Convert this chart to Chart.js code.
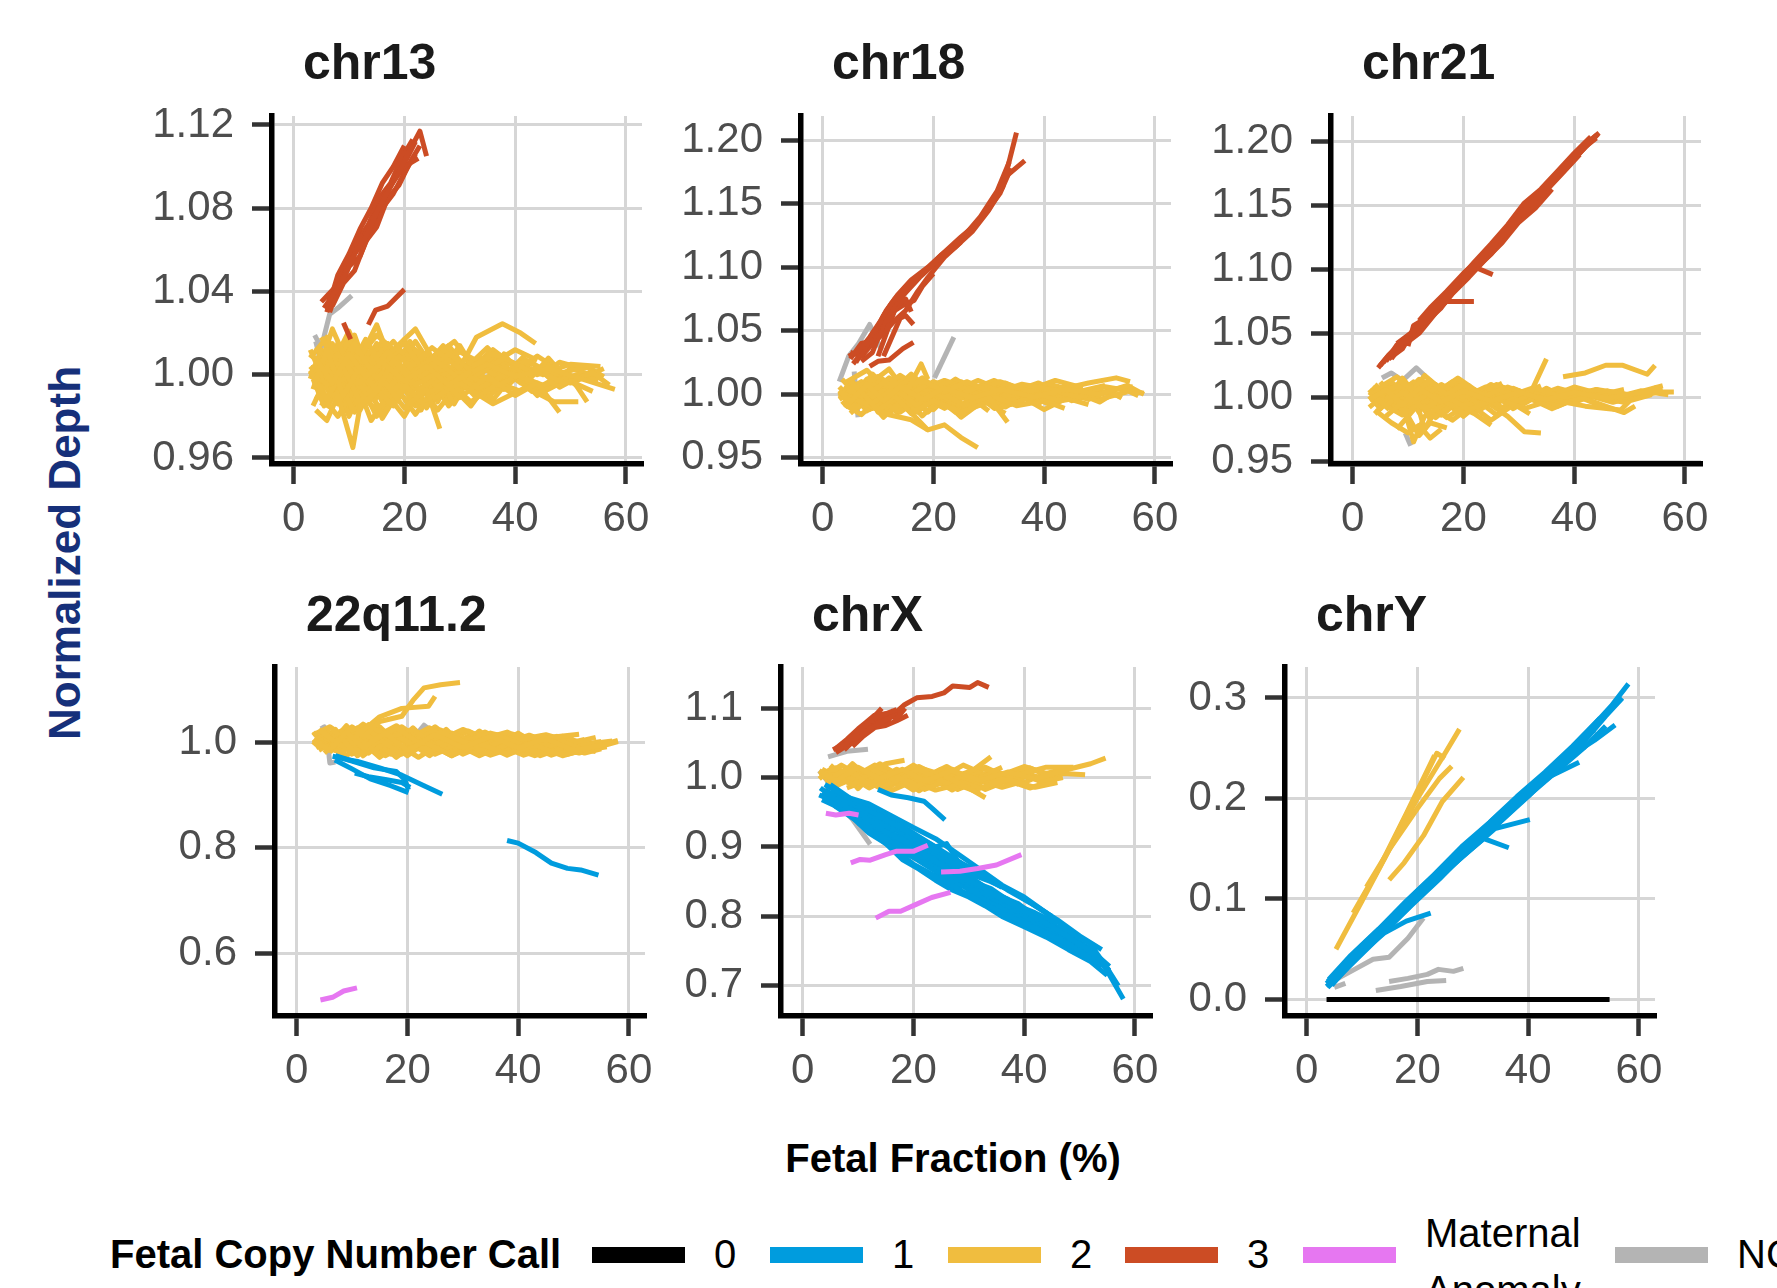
<!DOCTYPE html>
<html>
<head>
<meta charset="utf-8">
<script src="https://cdn.jsdelivr.net/npm/chart.js@4.4.1/dist/chart.umd.min.js"></script>
<style>
  body { margin: 0; width: 1777px; height: 1288px; overflow: hidden; background: #fff;
         font-family: "Liberation Sans", Arial, sans-serif; position: relative; }
  canvas { position: absolute; }
  .txt { position: absolute; white-space: nowrap; line-height: 1; }
  .title { font-weight: bold; font-size: 50px; color: #1a1a1a; }
  .key { position: absolute; width: 93px; height: 16px; }
  .lab { font-size: 40px; color: #000; }
</style>
</head>
<body>
<script>
'use strict';

// ---------- values ----------
const xTicks = [0, 20, 40, 60];
const chr13Ticks = [0.96, 1.00, 1.04, 1.08, 1.12];
const chr18Ticks = [0.95, 1.00, 1.05, 1.10, 1.15, 1.20];
const chr21Ticks = [0.95, 1.00, 1.05, 1.10, 1.15, 1.20];
const q22Ticks = [0.6, 0.8, 1.0];
const chrXTicks = [0.7, 0.8, 0.9, 1.0, 1.1];
const chrYTicks = [0.0, 0.1, 0.2, 0.3];
const calls = ['0', '1', '2', '3', 'Maternal\nAnomaly', 'NC'];

// each line is one sample: [fetal fraction %, normalized depth]
const chr13CN2 = [
  [[4,1.008],[7,0.996],[10,1.010],[13,0.999],[16,1.006],[20,0.997],[24,1.004],[28,0.995],[32,1.002]],
  [[3.5,0.993],[6,1.012],[9,0.990],[12,1.004],[15,0.992],[18,1.007],[22,0.995],[26,1.001]],
  [[5,1.018],[8,1.004],[11,1.015],[14,1.002],[17,1.011],[21,1.000],[25,1.008],[30,0.998],[35,1.005],[40,0.999],[46,1.003],[52,0.998],[58,0.993]],
  [[4,0.983],[6,0.978],[8,0.990],[10.7,0.965],[12,0.985],[15,0.992]],
  [[3,1.002],[6,0.988],[9,1.003],[12,0.987],[16,0.998],[20,0.984],[24,0.993],[26.4,0.974]],
  [[5,1.006],[7,1.022],[9,1.010],[12,1.008],[15,1.024],[17,1.010],[20,1.015],[23,1.004]],
  [[4,0.997],[8,1.010],[12,0.996],[16,1.012],[20,1.001],[25,1.013],[30,1.003],[33,1.018],[37.7,1.0245],[41,1.020],[43.7,1.015]],
  [[6,0.992],[10,1.000],[14,0.989],[18,1.001],[22,0.990],[26,1.000],[30,0.989],[35,0.999],[40,0.990],[44,0.996],[48,0.982]],
  [[3,1.010],[7,1.000],[11,1.013],[15,0.998],[19,1.009],[23,0.999],[28,1.010],[33,1.000],[38,1.008],[44,1.000],[50,1.005],[55.4,1.004]],
  [[5,0.985],[8,0.998],[11,0.982],[14,0.995],[18,0.985],[21,0.997],[25,0.988],[30,0.996],[36,0.986],[42,0.994],[47,0.987],[51.4,0.987]],
  [[4,1.001],[7,1.014],[10,1.002],[13,1.017],[16,1.004],[19,1.012],[22,0.998]],
  [[6,1.003],[9,0.991],[13,1.006],[17,0.993],[21,1.005],[26,0.994],[31,1.004],[37,0.995],[43,1.003],[49,0.996],[54,1.001],[57,0.995]],
  [[3,0.998],[5,1.012],[8,0.999],[11,1.007],[14,0.994],[18,1.003],[23,0.991],[28,1.002],[33,0.993],[39,1.001],[45,0.995],[50,0.999],[53,0.987]],
  [[4,1.013],[7,1.002],[10,1.017],[14,1.005],[18,1.016],[22,1.003],[27,1.012],[31,1.002],[36,1.010],[41,1.002]],
  [[5,0.990],[8,0.980],[11,0.993],[15,0.983],[19,0.995],[24,0.985],[29,0.996]],
  [[4,1.000],[8,1.006],[12,0.994],[16,1.008],[20,0.996],[24,1.009],[28,0.999],[32,1.006],[37,0.999],[42,1.007],[47,1.000],[53,1.004],[56,0.999]],
  [[7,1.005],[10,1.021],[12,1.009],[15,1.019],[18,1.012],[22,1.022],[25,1.008],[29,1.016],[32,1.006]],
  [[3,1.004],[6,0.995],[9,1.009],[13,0.997],[17,1.002],[22,0.989],[27,0.999],[32,0.987],[37,0.996],[41,0.992]],
  [[5,1.011],[9,0.997],[13,1.008],[17,0.990],[21,1.002],[25,0.992],[29,1.005],[34,0.996],[39,1.006],[45,1.000],[48,1.006],[52,1.003]],
  [[4,0.988],[7,1.000],[10,0.986],[13,0.999],[16,0.979],[19,0.992],[22,0.981],[26,0.996]],
  [[6,1.016],[9,1.005],[12,1.013],[16,0.999],[20,1.010],[25,1.001],[30,1.011],[35,1.004],[40,1.012],[44,1.007]],
  [[3.5,1.005],[6.5,0.991],[10,1.004],[14,0.988],[18,1.000],[23,0.986],[28,0.997],[34,0.991],[40,0.999],[46,0.993],[51,1.000],[55,0.997]],
  [[4.5,1.003],[7.5,0.989],[10.5,1.006],[13.5,0.991],[16.5,1.009],[19.5,0.993],[23,1.007],[27,0.992],[31,1.008],[35,0.994],[39,1.006]],
  [[5.5,0.996],[8.5,1.011],[11.5,0.993],[14.5,1.010],[17.5,0.990],[21,1.008],[25,0.989],[29,1.005],[33,0.991],[38,1.003],[43,0.992],[47,0.998]],
  [[3,1.000],[5,1.010],[8,0.986],[11,1.000],[14,1.012],[17,0.995],[20,1.011],[24,0.996],[28,1.012],[32,0.997],[36,1.009]],
  [[6,1.009],[9,0.994],[12,1.012],[15,0.989],[18,1.006],[21,0.991],[24,1.006],[27,0.990],[30,1.007],[34,0.994],[38,1.010],[42,0.996],[46,1.008],[50,0.996],[54,1.002]],
  [[4,1.005],[6,0.986],[9,1.002],[12,0.983],[15,0.998],[18,0.988],[21,1.001],[24,0.984],[27,0.997]],
  [[7,0.999],[10,1.009],[13,0.997],[16,1.014],[19,0.998],[22,1.012],[26,0.999],[30,1.014],[33,1.001],[36,1.012],[40,1.004]],
  [[5,1.001],[8,1.015],[11,0.998],[14,1.008],[17,0.986],[20,1.000],[23,0.983],[26,0.999],[29,0.986],[32,1.000],[36,0.988],[40,1.001],[44,0.990],[48,1.001],[52,0.993]],
  [[3.5,0.985],[6,0.999],[9,0.983],[12,0.996],[15,0.980],[18,0.994],[21,0.986]],
  [[8,1.000],[11,0.988],[14,1.002],[18,0.991],[22,1.006],[26,0.993],[30,1.001],[35,0.989],[40,1.002],[45,0.991],[50,1.003],[55,0.999]],
  [[4,1.012],[7,1.008],[10,0.995],[13,1.010],[16,1.000],[20,1.017],[23,1.002],[27,1.014],[31,0.999]],
  [[3,1.012],[5,1.000],[7,1.015],[9,0.998],[11,1.011],[13,0.993],[15,1.003],[17,0.989],[19,1.004],[21,0.988],[23,1.002],[26,0.987],[29,1.000],[33,0.989],[37,1.001]],
  [[4,0.994],[6,1.006],[8,0.992],[10,1.008],[12,0.990],[14,1.005],[16,0.993],[18,1.010],[20,0.994],[22,1.008],[25,0.996],[28,1.009],[32,0.995],[36,1.006],[41,0.996],[46,1.005],[51,0.997],[56,1.003]],
  [[5,1.000],[7,0.990],[9,1.012],[11,0.991],[13,1.013],[15,0.996],[17,1.015],[19,0.995],[21,1.013],[24,0.993],[27,1.009],[30,0.992],[34,1.008],[38,0.993],[43,1.006],[48,0.994],[53,1.001]],
  [[6,0.984],[8,0.994],[10,0.980],[12,0.992],[14,0.978],[17,0.990],[20,0.980],[23,0.994],[26,0.983],[29,0.993],[32,0.985],[35,0.996]],
  [[3,1.008],[6,1.018],[8,1.006],[11,1.019],[13,1.004],[16,1.016],[19,1.006],[22,1.016],[25,1.004],[28,1.014],[31,1.003],[35,1.013],[39,1.002],[42,1.010]],
  [[4.5,0.992],[7,1.004],[10,0.989],[13,1.003],[16,0.987],[19,1.002],[22,0.987],[25,1.001],[28,0.988],[31,0.999],[35,0.992],[39,1.000],[44,0.993],[49,0.998],[54,0.992]],
  [[6,1.002],[9,1.014],[12,1.000],[15,1.015],[18,1.002],[21,1.016],[24,1.000],[27,1.012],[31,0.998],[35,1.010],[39,0.999],[44,1.009],[48,1.002]],
  [[3.5,0.998],[5.5,0.985],[8,0.996],[10,0.984],[13,0.994],[16,0.982],[19,0.997],[22,0.985],[25,0.998],[28,0.985],[31,0.995]]
];
const chr13CN3 = [
  [[5.5,1.032],[7,1.038],[9,1.046],[11,1.058],[13,1.066],[15,1.078],[17,1.088],[19,1.097],[21,1.108],[22.8,1.117],[24,1.105]],
  [[6,1.036],[8,1.041],[10,1.054],[12,1.062],[14,1.074],[16,1.083],[18,1.093],[20,1.100],[22.5,1.104]],
  [[7,1.033],[9,1.044],[11,1.050],[13,1.064],[15,1.071],[17,1.085],[19,1.091],[21,1.102],[22.8,1.110]],
  [[8,1.040],[10,1.052],[12,1.057],[14,1.070],[16,1.080],[18,1.087],[20,1.097],[22,1.106]],
  [[6.5,1.030],[8.5,1.045],[10.5,1.055],[12.5,1.068],[14.5,1.076],[16.5,1.087],[18.5,1.095],[20.5,1.104],[22,1.112]],
  [[5,1.035],[7.5,1.042],[9.5,1.052],[11.5,1.064],[13.5,1.072],[15.5,1.085],[17.5,1.092],[19.5,1.104],[21.5,1.113]],
  [[6,1.030],[8,1.048],[10,1.058],[12,1.070],[14,1.080],[16,1.092],[18,1.100],[20,1.110]],
  [[9,1.025],[10.3,1.017]],
  [[13.5,1.024],[14.8,1.031],[17,1.033],[20,1.041]]
];
const chr13NC = [
  [[3.8,1.019],[5,1.013],[6.5,1.029],[8,1.032],[10.5,1.038]],
  [[4,1.016],[5,1.005],[6,0.996]]
];

const chr18CN2 = [
  [[3,1.003],[5,0.994],[8,1.008],[11,0.995],[14,1.006],[18,0.996],[22,1.005],[27,0.997],[32,1.004],[38,0.998],[44,1.004],[50,1.000],[55,1.007],[58,1.000]],
  [[4,0.990],[7,1.002],[10,0.987],[13,0.999],[16,0.985],[20,0.995],[25,0.986],[30,0.994]],
  [[5,1.010],[8,0.998],[12,1.013],[15,1.001],[17.8,1.024],[19,1.012]],
  [[4,1.000],[8,0.992],[12,0.984],[16,0.980],[19,0.972],[22,0.976],[25,0.966],[28,0.958]],
  [[6,1.005],[10,1.014],[14,1.004],[18,1.011],[22,1.002],[26,1.010],[31,1.001],[36,1.008],[42,1.003],[48,1.009],[53,1.013],[55.5,1.010]],
  [[3,0.996],[6,1.006],[9,0.993],[13,1.005],[17,0.991],[21,1.003],[26,0.990],[30,0.998],[33.4,0.978]],
  [[5,0.985],[8,0.997],[11,0.982],[14,0.994],[17,0.981],[19,0.972]],
  [[4,1.007],[7,0.997],[11,1.009],[15,0.998],[19,1.008],[24,0.999],[29,1.007],[34,0.999],[40,1.005],[46,0.998],[52,1.002],[54,0.997]],
  [[7,0.993],[11,1.003],[15,0.990],[20,1.002],[25,0.991],[30,1.000],[35,0.991],[40,0.995],[43.7,0.989]],
  [[3.5,1.012],[6,1.000],[9,1.016],[12,1.003],[16,1.012],[20,0.999],[24,1.008],[28,1.000]],
  [[5,0.999],[9,1.009],[13,0.995],[18,1.006],[23,0.994],[28,1.004],[34,0.996],[39,1.006],[45,1.001],[51,1.006],[55,1.003],[58,1.001]],
  [[4,0.992],[7,0.984],[10,0.996],[14,0.986],[18,0.998],[22,0.989],[26,1.000],[31,0.993],[37,1.001],[43,0.995],[47,0.998]],
  [[6,1.008],[10,0.996],[14,1.010],[18,0.997],[22,1.009],[27,1.001],[32,1.010],[37,1.003],[42,1.011],[47,1.005]],
  [[3,1.000],[6,0.990],[9,1.003],[12,0.992],[16,1.004],[21,0.993],[26,1.003],[31,0.995],[36,1.002]],
  [[8,1.005],[12,0.997],[16,1.007],[21,0.995],[26,1.006],[31,0.996],[36,1.004],[41,0.996],[46,1.001],[50,0.994],[53,1.002]],
  [[5,1.004],[9,0.989],[13,1.001],[17,0.986],[21,0.999],[25,0.982],[29,0.995],[33,0.985]],
  [[4,1.009],[8,1.019],[11,1.006],[14,1.015],[18,1.004],[22,1.011],[26,1.005]],
  [[3.5,1.004],[6.5,0.993],[9.5,1.006],[12.5,0.991],[15.5,1.007],[19,0.992],[23,1.006],[27,0.993],[31,1.005],[35,0.993],[40,1.004],[45,0.995],[50,1.003],[54,0.998]],
  [[5,0.995],[8,1.007],[11,0.990],[14,1.009],[17,0.992],[21,1.008],[25,0.991],[29,1.007],[33,0.995],[37,1.006],[41,0.997]],
  [[4,1.002],[7,1.010],[10,0.996],[13,1.011],[16,0.994],[19,1.006],[23,0.990],[27,1.003],[31,0.989],[35,1.001],[39,0.993],[43,1.002],[48,0.996],[52,1.004],[56,1.006]],
  [[6,0.988],[9,0.999],[12,0.985],[15,0.997],[18,0.983],[21,0.996],[24,0.986],[27,0.997],[30,0.987]],
  [[3,1.006],[5,0.997],[8,1.012],[11,1.000],[14,1.013],[17,1.002],[20,1.010],[24,1.003],[28,1.011],[32,1.004]],
  [[7,1.000],[10,0.990],[13,1.003],[16,0.989],[20,1.000],[24,0.988],[28,0.999],[32,0.989],[36,0.998],[40,0.988],[44,0.997],[48,0.992]],
  [[4.5,0.998],[8,1.004],[12,0.994],[16,1.006],[20,0.996],[24,1.004],[28,0.994],[33,1.006],[38,0.996],[44,1.007],[49,0.999],[54,1.005],[57,0.999]],
  [[9,1.010],[12,1.020],[14,1.008],[16,1.016],[19,1.004]],
  [[3,0.999],[5,1.008],[7,0.994],[9,1.010],[11,0.993],[13,1.008],[15,0.991],[18,1.007],[21,0.992],[24,1.006],[27,0.991],[30,1.005],[34,0.992],[38,1.004],[42,0.994],[46,1.003]],
  [[4,1.004],[6,0.988],[8,1.002],[10,0.986],[12,1.000],[14,0.988],[17,1.003],[20,0.988],[23,1.001],[26,0.989],[29,1.002],[33,0.990],[37,1.000],[41,0.992],[45,1.001],[50,0.996],[55,1.002]],
  [[5,1.012],[7,1.002],[9,1.013],[11,1.003],[13,1.014],[15,1.004],[18,1.013],[21,1.003],[24,1.012],[27,1.004],[31,1.011],[35,1.003],[39,1.009],[43,1.001]],
  [[6,0.997],[8,0.987],[10,1.000],[12,0.988],[14,1.002],[17,0.989],[20,1.004],[23,0.993],[26,1.005],[30,0.994],[34,1.005],[38,0.995],[43,1.004],[48,0.997],[52,1.003]],
  [[3.5,0.992],[6,1.002],[8.5,0.988],[11,1.001],[13.5,0.985],[16,0.997],[19,0.986],[22,0.998],[25,0.988],[28,0.999]],
  [[7,1.008],[9,0.998],[12,1.010],[15,0.999],[18,1.011],[21,1.000],[25,1.010],[29,1.000],[33,1.009],[37,1.001],[41,1.008],[46,1.002],[51,1.007]]
];
const chr18CN3 = [
  [[4.7,1.030],[6.5,1.034],[8.5,1.045],[10.5,1.058],[12.5,1.072],[15,1.083],[18,1.095],[21,1.106],[24,1.116],[27,1.128],[30,1.145],[32.5,1.163],[35,1.206]],
  [[5.5,1.024],[7.5,1.035],[9.5,1.050],[11.5,1.066],[13.5,1.078],[16,1.090],[19,1.100],[22,1.112],[25,1.124],[28,1.135],[31,1.155],[33.5,1.173],[36.5,1.184]],
  [[5,1.028],[7,1.040],[9,1.042],[11,1.062],[13,1.075],[15.5,1.087],[18.5,1.097],[21.5,1.110],[25,1.122],[28.5,1.140],[31.5,1.160],[33.7,1.183]],
  [[6,1.030],[8,1.038],[10,1.052],[12,1.064],[14,1.076],[17,1.092],[20,1.103],[23,1.114],[26,1.126],[29,1.140],[32,1.158],[34,1.178]],
  [[7,1.026],[9,1.033],[11,1.055],[13,1.070],[15,1.080],[17.5,1.092],[20.5,1.104]],
  [[5,1.033],[7,1.030],[9,1.040],[11,1.048],[13,1.058],[15,1.066],[17,1.080],[19,1.092],[22,1.108],[25,1.120]],
  [[6,1.025],[8,1.040],[10,1.045],[12,1.058],[13.5,1.070],[15,1.075],[16,1.065]],
  [[8.5,1.022],[10,1.026],[12,1.027],[14.5,1.036],[16.4,1.041]],
  [[11,1.030],[12.5,1.045],[14,1.060],[15,1.062],[16.4,1.055]],
  [[10,1.030],[11.5,1.048],[13,1.066],[14.5,1.070],[16.5,1.074],[18,1.085],[20,1.095]]
];
const chr18NC = [
  [[3,1.010],[4.7,1.030],[6.5,1.040],[8.5,1.055],[10.6,1.035]],
  [[20.2,1.013],[23.7,1.045]],
  [[5.7,1.018],[6.4,0.982]]
];

const chr21CN2 = [
  [[3,0.998],[6,1.006],[9,0.994],[12,1.007],[16,0.996],[20,1.005],[25,0.997],[30,1.004],[35,0.998],[40,1.004],[46,0.999],[52,1.004],[58,1.004]],
  [[4,0.990],[7,0.980],[10,0.972],[12,0.978],[14,0.968],[16,0.975]],
  [[5,1.008],[8,1.016],[11,1.004],[14,1.013],[17,1.002],[20,1.010],[24,1.001],[28,1.008],[32,1.002],[35,1.030]],
  [[38,1.016],[42,1.019],[45.7,1.025],[48.8,1.025],[53.2,1.018],[54.6,1.025]],
  [[3,1.004],[6,0.993],[9,1.004],[13,0.991],[17,1.001],[21,0.990],[26,0.999],[31,0.991],[36,0.998],[42,0.993],[48.4,0.990],[50,0.997]],
  [[6,0.985],[9,0.996],[11,0.965],[13,0.985],[16,0.993]],
  [[4,1.001],[8,1.009],[12,0.998],[16,1.010],[20,1.000],[24,1.008],[28,0.999],[33,1.007],[38,1.000],[44,1.006],[50,1.002],[56,1.009]],
  [[5,0.996],[9,0.986],[13,0.998],[17,0.984],[21,0.995],[25,0.982],[29,0.994]],
  [[3.5,1.002],[7,1.012],[10,1.000],[13,1.017],[16,1.006],[19,1.015],[23,1.003]],
  [[6,1.001],[10,0.991],[14,1.003],[18,0.993],[22,1.004],[27,0.992],[32,1.002],[37,0.994],[43,1.001],[49,0.996],[54,1.002]],
  [[4,0.995],[8,1.004],[12,0.990],[16,1.001],[20,0.987],[24,0.997],[28,0.985],[31,0.973],[34,0.972]],
  [[7,1.006],[11,0.995],[15,1.006],[19,0.994],[23,1.004],[28,0.996],[33,1.005],[39,0.998],[45,1.004],[51,0.999],[55,1.008]],
  [[5,1.003],[8,0.992],[11,1.008],[15,0.996],[19,1.009],[24,0.998],[29,1.007],[34,0.998],[40,1.008],[46,1.001]],
  [[3,0.992],[6,1.003],[9,0.988],[12,0.999],[15,0.984],[18,0.995],[22,0.987],[25,0.978]],
  [[8,1.002],[12,1.011],[16,0.999],[20,1.007],[25,0.995],[30,1.004],[35,0.994],[40,1.002],[45,0.994],[49,0.988],[51,0.993]],
  [[4,1.010],[7,0.999],[11,1.012],[15,1.001],[19,1.013],[23,1.002],[27,1.011]],
  [[3.5,0.997],[6.5,1.007],[9.5,0.992],[12.5,1.006],[15.5,0.993],[19,1.007],[23,0.994],[27,1.006],[31,0.995],[35,1.005],[40,0.996],[45,1.004],[50,0.998],[55,1.004]],
  [[5,1.004],[8,0.993],[11,1.008],[14,0.992],[17,1.007],[21,0.994],[25,1.006],[29,0.994],[33,1.006],[37,0.996],[41,1.005]],
  [[4,0.987],[7,0.999],[10,0.985],[13,1.000],[16,0.986],[19,0.999],[22,0.988],[26,0.998]],
  [[6,1.010],[9,1.001],[12,1.014],[15,1.003],[18,1.012],[22,1.001],[26,1.010],[30,1.002],[34,1.009]],
  [[3,1.001],[5,0.991],[8,1.006],[11,0.993],[14,1.007],[18,0.993],[22,1.006],[26,0.995],[30,1.005],[35,0.997],[40,1.006],[46,0.998],[52,1.005],[57,1.002]],
  [[7,0.995],[10,1.005],[13,0.990],[16,1.004],[19,0.990],[23,1.002],[27,0.989],[31,1.001],[36,0.991],[41,1.000],[45,0.993]],
  [[8,0.975],[10,0.985],[12,0.970],[14,0.980],[17,0.976]],
  [[4.5,1.006],[7.5,0.996],[10.5,1.010],[14,0.998],[18,1.008],[22,0.998],[27,1.008],[32,0.999],[37,1.007],[43,1.000],[49,1.006]],
  [[3,1.006],[5,0.996],[7,1.010],[9,0.997],[11,1.011],[13,0.996],[15,1.010],[18,0.997],[21,1.009],[24,0.996],[27,1.008],[31,0.997],[35,1.007],[39,0.998],[44,1.006],[49,1.000]],
  [[4,0.994],[6,1.004],[8,0.990],[10,1.003],[12,0.988],[14,1.002],[17,0.989],[20,1.002],[23,0.990],[26,1.001],[29,0.991],[33,1.001],[37,0.993],[42,1.002],[47,0.996],[53,1.003]],
  [[5,1.012],[7,1.002],[9,1.015],[11,1.004],[13,1.012],[16,1.003],[19,1.011],[22,1.002],[25,1.010],[29,1.002],[33,1.008]],
  [[6,0.990],[8,1.000],[10,0.986],[12,0.997],[14,0.983],[17,0.995],[20,0.985],[23,0.996],[26,0.986],[29,0.995],[32,0.987]],
  [[3.5,1.008],[6,0.998],[8.5,1.012],[11,0.999],[14,1.010],[17,0.998],[20,1.008],[24,0.997],[28,1.007],[32,0.998],[36,1.005],[41,0.999],[46,1.005],[51,1.000],[56,1.006]],
  [[7,1.000],[9,0.990],[11,1.004],[13,0.975],[15,0.990],[18,0.982],[21,0.992]]
];
const chr21CN3 = [
  [[4.6,1.023],[6.5,1.033],[9,1.043],[11,1.051],[13,1.062],[16,1.074],[19,1.089],[22,1.103],[25,1.117],[28,1.132],[31,1.147],[34,1.160],[37,1.174],[40,1.187],[43,1.200],[44.3,1.206]],
  [[6,1.028],[8,1.041],[10,1.048],[12.5,1.058],[15,1.068],[18,1.082],[21,1.097],[24,1.111],[27,1.126],[30,1.141],[33,1.155],[36,1.168],[39,1.183],[42,1.196],[44,1.203]],
  [[5,1.025],[7,1.035],[9.5,1.046],[12,1.055],[15,1.069],[18,1.084],[21,1.099],[24,1.113],[27,1.128],[30,1.142],[33,1.157],[36,1.170],[39,1.184],[42,1.198],[44.5,1.207]],
  [[7,1.030],[9,1.042],[11.5,1.049],[14,1.065],[17,1.080],[20,1.094],[23,1.107],[26,1.122],[29,1.134],[32,1.150],[35,1.165],[38,1.180]],
  [[5.5,1.027],[7.5,1.037],[10,1.046],[13,1.060],[16,1.072],[19,1.087],[22,1.101],[25,1.115],[28,1.130],[31,1.144],[34,1.158],[37,1.172],[40,1.186],[43,1.201]],
  [[6.5,1.030],[9,1.038],[11,1.053],[14,1.064],[17,1.077],[20,1.091],[23,1.105],[26,1.119],[29,1.133],[32,1.147],[35,1.162],[38,1.176],[41,1.190]],
  [[8,1.042],[10.5,1.050],[13,1.063],[16,1.076],[19,1.091],[22,1.106],[25,1.120],[28,1.135],[31,1.152],[34,1.163],[37,1.177],[40,1.191],[43,1.204]],
  [[12,1.060],[14,1.070],[17,1.083],[20,1.097],[23,1.109],[26,1.123],[29,1.137]],
  [[8,1.036],[10,1.045],[12,1.055],[14,1.063],[17,1.078],[20,1.093],[22,1.102],[25.3,1.096]],
  [[10,1.040],[11,1.056],[12.5,1.060],[14,1.066],[17,1.075],[19.4,1.075],[21.9,1.075]],
  [[13,1.058],[16,1.070],[19,1.087],[22,1.100],[25,1.112],[28,1.128],[29,1.137],[31,1.150],[34,1.158],[38,1.178],[41,1.193],[44,1.205]],
  [[9,1.040],[12,1.050],[15,1.066],[18,1.081],[21,1.094],[24,1.108],[27,1.121],[30,1.137],[33,1.148],[36,1.163]]
];
const chr21NC = [
  [[5.3,1.015],[7,1.019],[9,1.013],[11.5,1.023],[13,1.017]],
  [[9.5,0.972],[10.5,0.962]]
];

const q22CN2 = [
  [[12,1.010],[15,1.040],[19,1.050],[21,1.080],[23,1.104],[26,1.110],[29.5,1.114]],
  [[10,1.005],[15,1.049],[19,1.065],[23.8,1.069],[25,1.088]],
  [[3,1.005],[6,0.985],[9,1.020],[12,0.990],[16,1.018],[20,0.985],[25,1.015],[30,0.990],[35,1.012],[40,0.990],[45,1.008],[50,0.985],[55,0.995],[58,1.004]],
  [[4,1.025],[7,1.000],[10,1.030],[14,1.005],[18,1.028],[22,1.000],[26,1.020],[31,0.998],[36,1.014],[41,0.995],[46,1.010],[51,1.016]],
  [[5,0.980],[8,1.010],[11,0.975],[15,1.005],[19,0.978],[23,1.002],[28,0.975],[33,0.998],[38,0.978],[43,0.995],[48,0.975],[53,0.990]],
  [[3,1.015],[6,1.030],[9,1.000],[13,1.032],[17,1.010],[21,1.025],[25,0.995]],
  [[6,0.995],[10,1.015],[14,0.985],[18,1.012],[23,0.988],[28,1.010],[33,0.985],[38,1.008],[43,0.982],[48,1.003],[52,0.985],[56,0.992]],
  [[4,1.000],[8,0.980],[12,1.018],[16,0.990],[20,1.015],[24,0.982],[29,1.008],[34,0.980],[39,1.000],[44,0.975],[48,0.990]],
  [[7,1.020],[11,0.995],[15,1.025],[20,1.000],[25,1.022],[30,1.002],[35,1.018],[40,1.005],[45,1.015],[50,1.000],[54,1.010]],
  [[5,1.010],[9,0.990],[13,1.008],[17,0.980],[21,1.005],[26,0.985],[31,1.008],[36,0.990],[41,1.005],[47,0.992],[53,0.998],[57,1.003]],
  [[3.5,0.990],[6,1.008],[9,0.975],[12,1.000],[15,0.972],[18,0.995],[21,0.980]],
  [[8,1.000],[12,1.025],[16,1.000],[20,1.020],[24,1.005],[28,1.018],[32,1.000],[36,1.015],[40,0.998],[44,1.012],[48,0.996],[52,1.006]],
  [[4,1.008],[7,0.992],[11,1.012],[15,0.995],[19,1.010],[23,0.992],[27,1.008],[32,0.990],[37,1.003],[42,0.985],[47,0.998],[52,0.980],[55,0.988]],
  [[3,0.995],[5,1.020],[8,0.990],[11,1.022],[14,0.992],[17,1.020],[21,0.990],[25,1.018],[29,0.992],[33,1.015],[37,0.990],[41,1.012],[45,0.988],[49,1.008],[53,0.994],[57,1.000]],
  [[4,1.015],[7,0.985],[10,1.012],[13,0.980],[16,1.008],[20,0.975],[24,1.005],[28,0.980],[32,1.004],[36,0.982],[40,1.000],[44,0.978],[48,0.995]],
  [[6,1.030],[9,1.010],[12,1.035],[15,1.015],[18,1.032],[21,1.012],[24,1.028],[27,1.010],[30,1.025],[34,1.008],[38,1.020],[42,1.002]],
  [[5,1.000],[8,1.022],[11,0.998],[14,1.018],[17,0.995],[21,1.016],[25,0.996],[29,1.014],[33,0.994],[37,1.010],[41,0.992],[45,1.006],[50,0.993],[55,1.002]],
  [[3.5,1.010],[6.5,0.990],[9.5,1.015],[12.5,0.985],[15.5,1.012],[19,0.988],[23,1.010],[27,0.988],[31,1.012],[35,0.990],[39,1.010],[43,0.992],[47,1.008],[51,0.992]],
  [[7,1.005],[10,1.025],[14,1.000],[18,1.022],[22,1.000],[26,1.024],[30,1.005],[34,1.020],[38,1.000],[42,1.014],[46,0.998],[50,1.010]],
  [[4,0.985],[7,1.005],[10,0.982],[13,1.002],[17,0.978],[21,0.998],[25,0.978],[29,0.996],[33,0.975],[37,0.994],[41,0.976],[45,0.990],[49,0.978],[53,0.988]],
  [[3,1.020],[5,0.995],[7,1.025],[9,0.995],[11,1.028],[13,0.998],[15,1.030],[18,1.000],[21,1.028],[24,0.998],[27,1.025],[30,0.995],[33,1.022],[36,0.995],[40,1.018],[44,0.992],[48,1.012],[52,0.990],[56,1.000]],
  [[4,0.990],[6,1.012],[8,0.978],[10,1.005],[12,0.975],[15,1.000],[18,0.972],[21,0.996],[24,0.975],[27,0.998],[30,0.978],[34,0.996],[38,0.976],[42,0.994],[46,0.976],[50,0.990],[54,0.983]],
  [[5,1.028],[7,1.008],[9,1.032],[11,1.010],[13,1.034],[16,1.012],[19,1.030],[22,1.008],[25,1.030],[28,1.006],[31,1.022],[35,1.002],[39,1.016],[43,0.998],[47,1.012],[51,0.998]],
  [[6,0.982],[8,1.000],[10,0.978],[13,0.995],[16,0.975],[19,0.992],[22,0.972],[25,0.992],[28,0.975],[31,0.993],[35,0.976],[39,0.990],[43,0.975],[47,0.990],[51,0.980],[55,0.993]],
  [[3,1.000],[6,1.018],[9,0.992],[12,1.012],[15,0.990],[18,1.010],[22,0.990],[26,1.008],[30,0.988],[34,1.008],[38,0.988],[42,1.006],[46,0.988],[50,1.002],[54,0.990],[58,1.002]],
  [[7,1.012],[10,0.990],[13,1.018],[16,0.992],[19,1.018],[22,0.994],[25,1.014],[28,0.990],[31,1.012],[34,0.990],[37,1.008],[40,0.985],[44,1.003],[48,0.985]]
];
const q22CN1 = [
  [[6.5,0.974],[9,0.968],[11,0.964],[15,0.952],[19,0.938],[23,0.918],[26.3,0.902]],
  [[6.9,0.967],[10,0.950],[13.3,0.931],[17,0.918],[20.2,0.905]],
  [[10.5,0.942],[13,0.935],[16,0.930],[19,0.924],[20.5,0.915]],
  [[7,0.975],[10,0.965],[14,0.952],[18,0.945],[19.5,0.930],[20.2,0.910]],
  [[38,0.814],[40,0.809],[43.2,0.791],[46,0.771],[48.9,0.761],[51.3,0.758],[54.5,0.748]]
];
const q22Maternal = [
  [[4.3,0.511],[6.5,0.516],[8.5,0.528],[10.9,0.534]]
];
const q22NC = [
  [[4.4,1.026],[5,1.030],[5.5,1.010],[6,0.961],[7,0.963]],
  [[22,1.020],[23,1.033],[24,1.025]]
];

const chrXCN2 = [
  [[3,1.010],[6,0.995],[10,1.015],[14,0.998],[18,1.012],[22,0.995],[27,1.010],[32,0.996],[37,1.008],[42,0.998],[48,1.012],[52,1.020],[54.7,1.028]],
  [[4,0.995],[8,1.012],[12,0.990],[16,1.008],[20,0.985],[25,1.005],[30,0.985],[33,0.971]],
  [[5,1.005],[9,0.990],[13,1.010],[17,0.995],[21,1.012],[26,0.992],[31,1.012],[34,1.030]],
  [[3.5,1.000],[7,1.018],[11,1.000],[15,1.020],[18.4,1.025]],
  [[6,0.988],[10,1.002],[14,0.985],[18,1.000],[22,0.983],[27,0.998],[32,0.985],[37,0.997],[42,0.986],[46,0.993]],
  [[4,1.008],[8,0.996],[12,1.010],[17,0.998],[22,1.012],[27,1.000],[32,1.014],[38,1.002],[44,1.015],[48.9,1.015]],
  [[5,0.998],[9,1.008],[14,0.993],[19,1.006],[24,0.990],[29,1.004],[34,0.992],[39,1.006],[44,0.995],[47,1.000]],
  [[7,1.003],[11,0.990],[15,1.004],[20,0.992],[25,1.007],[30,0.994],[35,1.008],[40,0.993],[43,1.003]],
  [[3,1.004],[6,1.014],[10,0.998],[14,1.012],[18,0.997],[22,1.010],[26,1.000]],
  [[8,0.985],[12,0.997],[16,0.981],[20,0.995],[24,0.982],[28,0.990],[32,0.978]],
  [[3.5,1.008],[6.5,0.992],[9.5,1.010],[13,0.994],[17,1.012],[21,0.996],[25,1.012],[29,0.998],[33,1.015],[37,1.000],[41,1.014],[45,1.000]],
  [[4.5,0.990],[8,1.005],[12,0.985],[16,1.002],[20,0.982],[24,0.998],[28,0.983],[32,0.996],[36,0.986],[40,0.995]],
  [[5,1.015],[9,1.000],[13,1.018],[17,1.002],[21,1.016],[25,1.000],[29,1.018],[33,1.004],[36,1.015]],
  [[6,1.000],[10,0.988],[14,1.004],[18,0.990],[22,1.005],[26,0.988],[30,1.006],[35,0.992],[40,1.008],[44,0.996]],
  [[7,0.992],[11,1.008],[15,0.988],[19,1.004],[23,0.986],[27,1.002],[31,0.988],[35,1.004],[39,0.990]],
  [[3,0.998],[5,1.012],[7,0.995],[9,1.014],[11,0.994],[13,1.012],[16,0.992],[19,1.011],[22,0.992],[25,1.010],[28,0.991],[31,1.008],[35,0.992],[39,1.008],[43,0.994],[47,1.006],[51,1.004]],
  [[4,1.005],[6,0.986],[8,1.003],[10,0.984],[12,1.000],[15,0.983],[18,0.998],[21,0.981],[24,0.996],[27,0.982],[30,0.995],[33,0.983],[37,0.996],[41,0.985],[45,0.995]],
  [[5,1.018],[7,1.004],[9,1.020],[11,1.006],[14,1.020],[17,1.004],[20,1.018],[23,1.004],[26,1.016],[29,1.002],[32,1.016],[36,1.004],[40,1.016],[44,1.006],[48,1.014]],
  [[6,0.993],[8,1.006],[11,0.990],[14,1.008],[17,0.990],[20,1.006],[23,0.991],[26,1.008],[29,0.990],[33,1.006],[37,0.991],[41,1.004],[45,0.992]],
  [[3.5,1.012],[6,1.002],[9,1.016],[12,1.003],[15,1.014],[18,1.001],[21,1.013],[24,1.000],[27,1.012],[30,0.999]]
];
const chrXCN1 = [
  [[4,0.990],[8,0.972],[12,0.962],[16,0.945],[20,0.928],[24,0.912],[28,0.890],[32,0.868],[36,0.845],[40,0.828],[44,0.805],[48,0.780],[52,0.760],[55.4,0.720]],
  [[3.2,0.985],[7,0.962],[11,0.945],[15,0.922],[19,0.905],[23,0.885],[27,0.865],[31,0.848],[35,0.830],[39,0.812],[43,0.795],[47,0.775],[51,0.755],[54,0.735],[57.9,0.681]],
  [[4,0.972],[8,0.950],[12,0.920],[16,0.900],[20,0.875],[24,0.858],[28,0.840],[32,0.822],[36,0.805],[40,0.790],[44,0.775],[48,0.760],[52,0.740]],
  [[5,0.980],[9,0.958],[13,0.940],[17,0.915],[21,0.898],[25,0.875],[29,0.855],[33,0.835],[37,0.820],[41,0.800],[45,0.785],[49,0.765],[53,0.745],[55.4,0.728]],
  [[6,0.970],[10,0.948],[14,0.930],[18,0.912],[22,0.890],[26,0.872],[30,0.852],[34,0.840],[38,0.818],[42,0.805],[46,0.790]],
  [[13.6,0.983],[16,0.975],[19.1,0.971],[21.9,0.966],[23.5,0.955],[25.7,0.939]],
  [[3.5,0.968],[7,0.955],[11,0.930],[15,0.912],[19,0.890],[23,0.870],[27,0.850],[29,0.842]],
  [[8,0.968],[12,0.952],[16,0.935],[20,0.918],[24,0.900],[26,0.905],[28,0.880],[32,0.860],[36,0.842]],
  [[10,0.935],[14,0.912],[18,0.892],[22,0.878],[26,0.862],[30,0.845],[34,0.828],[38,0.810],[42,0.792],[46,0.778],[50,0.760],[55.4,0.722]],
  [[3,0.975],[6,0.965],[10,0.940],[14,0.925],[18,0.900],[22,0.885],[26,0.862],[30,0.848],[34,0.826],[38,0.815],[42,0.795],[46,0.780],[50,0.762],[53,0.748]],
  [[5,0.990],[9,0.968],[13,0.955],[17,0.935],[21,0.915],[25,0.895],[29,0.875],[33,0.860],[37,0.838],[41,0.820],[45,0.800]],
  [[7,0.958],[11,0.940],[15,0.908],[19,0.895],[23,0.872],[27,0.858],[31,0.835],[35,0.815],[39,0.800],[43,0.785],[47,0.768],[51,0.748],[55,0.725],[57,0.700]],
  [[6,0.978],[10,0.958],[14,0.942],[18,0.925],[22,0.905],[26,0.885],[30,0.862],[34,0.850],[38,0.835],[42,0.815],[46,0.795],[50,0.772],[54,0.752]],
  [[9,0.955],[13,0.928],[17,0.910],[21,0.885],[25,0.865],[29,0.848],[33,0.828],[37,0.812],[41,0.795],[44,0.782]],
  [[4,0.982],[7,0.970],[10,0.955],[13,0.945],[16,0.928],[19,0.915],[22,0.900],[25,0.882],[28,0.868],[31,0.852],[34,0.836],[37,0.825],[40,0.808],[43,0.795],[46,0.785],[49,0.768],[52,0.752]],
  [[3.5,0.978],[6,0.958],[9,0.942],[12,0.932],[15,0.915],[18,0.905],[21,0.888],[24,0.875],[27,0.855],[30,0.838],[33,0.820],[36,0.812],[39,0.798],[42,0.786],[45,0.772],[48,0.758],[51,0.742],[54,0.728]],
  [[5,0.972],[8,0.962],[11,0.952],[14,0.935],[17,0.925],[20,0.905],[23,0.895],[26,0.878],[29,0.860],[32,0.845],[35,0.825],[38,0.820],[41,0.805]],
  [[6,0.962],[9,0.945],[12,0.925],[15,0.905],[18,0.882],[21,0.868],[24,0.852],[27,0.838],[30,0.828],[33,0.815],[36,0.800],[40,0.785],[44,0.770],[48,0.752],[52,0.735],[55,0.715]],
  [[8,0.958],[11,0.948],[14,0.918],[17,0.902],[20,0.892],[23,0.878],[26,0.868],[29,0.852],[32,0.838],[35,0.822],[38,0.806],[41,0.790],[44,0.778],[47,0.762],[50,0.752]],
  [[12,0.955],[15,0.940],[18,0.918],[21,0.908],[24,0.888],[27,0.872],[30,0.858],[33,0.842],[36,0.828],[39,0.818],[42,0.800]]
];
const chrXCN3 = [
  [[6.3,1.038],[8,1.050],[10,1.065],[12,1.080],[14.3,1.100]],
  [[7,1.045],[9,1.060],[11,1.075],[13,1.085],[15,1.092],[17,1.098]],
  [[8,1.052],[10,1.058],[12,1.070],[14,1.078],[16,1.088],[18.4,1.105],[20.6,1.115],[23.4,1.117],[25.5,1.122],[27.1,1.132],[30.2,1.130],[31.6,1.137],[33.6,1.130]],
  [[6,1.042],[8,1.055],[10,1.070],[11.5,1.080],[13,1.090],[15,1.092],[17,1.085],[18.5,1.100]],
  [[9,1.045],[11,1.060],[13,1.072],[15,1.075],[17,1.082],[19,1.090]],
  [[5.5,1.040],[7.5,1.048],[9.5,1.062],[11.5,1.072],[13.5,1.080],[15.5,1.090],[17,1.095]],
  [[7.5,1.040],[9.5,1.055],[11,1.068],[13,1.078],[15.5,1.082],[16.5,1.098]],
  [[6,1.036],[8,1.046],[10,1.060],[12,1.072],[14,1.085],[16,1.094]],
  [[7,1.048],[9,1.052],[11,1.066],[13,1.075],[15,1.088],[17,1.093],[18,1.100]]
];
const chrXMaternal = [
  [[4.2,0.9485],[6,0.946],[8.4,0.9485],[10.1,0.946]],
  [[8.7,0.877],[10.4,0.882],[12.2,0.881],[15,0.889],[17,0.894],[20.1,0.894],[22.6,0.9025]],
  [[25,0.864],[28.4,0.865],[31.6,0.869],[35,0.874],[39.5,0.889]],
  [[13.2,0.7975],[15.6,0.8074],[17.7,0.8074],[20.5,0.8173],[23.3,0.8272],[26.7,0.8346]]
];
const chrXNC = [
  [[4.6,1.030],[8,1.038],[11.8,1.041]],
  [[3.9,0.985],[6,0.965],[9,0.940],[12.2,0.904]],
  [[3,1.010],[4,1.000],[5,0.990]]
];

const chrYCN0 = [
  [[3.6,0],[20,0],[40,0],[54.7,0]]
];
const chrYCN1 = [
  [[3.6,0.016],[10,0.052],[20,0.104],[30,0.158],[40,0.205],[50,0.262],[55,0.292],[58.1,0.314]],
  [[4,0.014],[10,0.048],[20,0.100],[30,0.152],[40,0.202],[47,0.240],[52,0.258],[55.7,0.273]],
  [[3.8,0.018],[8,0.038],[14,0.066],[18,0.078],[22.4,0.086]],
  [[5,0.022],[15,0.075],[25,0.128],[32,0.160],[36.5,0.151]],
  [[4.5,0.020],[14,0.070],[24,0.122],[34,0.170],[40.3,0.179]],
  [[6,0.028],[16,0.082],[26,0.134],[36,0.186],[44,0.222],[49.2,0.236]],
  [[3.6,0.013],[12,0.058],[22,0.112],[32,0.165],[42,0.212],[50,0.250],[54,0.272]],
  [[4,0.018],[9,0.046],[14,0.072],[19,0.100],[24,0.126],[29,0.152],[34,0.178],[39,0.203],[44,0.228],[49,0.255],[52,0.268]],
  [[3.8,0.012],[9,0.040],[14,0.067],[19,0.094],[24,0.120],[29,0.148],[34,0.172],[39,0.198],[44,0.224]],
  [[5,0.024],[10,0.054],[15,0.080],[20,0.108],[25,0.134],[30,0.160],[35,0.186],[40,0.210],[45,0.232],[50,0.256],[54,0.282],[57,0.300]],
  [[4.2,0.016],[11,0.056],[18,0.093],[25,0.130],[33,0.170],[41,0.210],[47,0.244]],
  [[4.5,0.014],[9,0.042],[14,0.070],[19,0.096],[24,0.124],[29,0.150],[34,0.176],[39,0.200],[44,0.226],[49,0.252]],
  [[5,0.020],[10,0.050],[15,0.077],[20,0.104],[25,0.130],[30,0.156],[35,0.182],[40,0.206],[45,0.230]],
  [[4,0.020],[8,0.044],[13,0.070],[18,0.098],[23,0.124],[28,0.152],[33,0.176],[38,0.202],[43,0.226],[48,0.252],[53,0.280]],
  [[6,0.024],[11,0.052],[16,0.078],[21,0.106],[26,0.132],[31,0.160],[36,0.184],[41,0.210]]
];
const chrYCN2 = [
  [[5.3,0.050],[10,0.098],[15,0.150],[20,0.200],[25,0.245],[27.6,0.269]],
  [[8.4,0.086],[13,0.130],[18,0.185],[23.1,0.243]],
  [[14.9,0.119],[17.6,0.136],[21.1,0.163],[24.5,0.197],[28.3,0.221]],
  [[10.8,0.112],[15,0.150],[20,0.190],[24,0.220],[26.2,0.232]],
  [[9,0.090],[14,0.140],[19,0.195],[23.5,0.245],[25,0.240]]
];
const chrYNC = [
  [[4.6,0.018],[8,0.028],[12,0.040],[14.9,0.042],[18.3,0.061],[21.1,0.081]],
  [[12.5,0.009],[17,0.013],[21.8,0.018],[25.2,0.019]],
  [[14.9,0.018],[18.3,0.021],[21.8,0.025],[23.8,0.030],[26.5,0.028],[28.3,0.031]],
  [[5,0.012],[7,0.016]]
];

// ---------- styling ----------
const callColors = {
  '0': '#000000', '1': '#009CDE', '2': '#F0BD3F', '3': '#CC4C24',
  'Maternal\nAnomaly': '#E677F1', 'NC': '#B4B4B4'
};
// lower order is drawn on top
const callOrder = { '0': 0, 'Maternal\nAnomaly': 1, '3': 2, '1': 3, '2': 4, 'NC': 5 };

const AXIS_W = 150, AXIS_H = 80, PAD_T = 50, PAD_R = 30, AREA_W = 370;

const panels = [
  { name: 'chr13', left: 272, top: 116, h: 348, y: [0.9571, 1.1243], ticks: chr13Ticks, digits: 2, base: 79,
    lines: { 'NC': chr13NC, '2': chr13CN2, '3': chr13CN3 } },
  { name: 'chr18', left: 801, top: 116, h: 348, y: [0.9452, 1.2191], ticks: chr18Ticks, digits: 2, base: 79,
    lines: { 'NC': chr18NC, '2': chr18CN2, '3': chr18CN3 } },
  { name: 'chr21', left: 1331, top: 116, h: 348, y: [0.9477, 1.2202], ticks: chr21Ticks, digits: 2, base: 79,
    lines: { 'NC': chr21NC, '2': chr21CN2, '3': chr21CN3 } },
  { name: '22q11.2', left: 275, top: 667, h: 349, y: [0.4805, 1.1436], ticks: q22Ticks, digits: 1, base: 631,
    lines: { 'NC': q22NC, '2': q22CN2, '1': q22CN1, 'Maternal\nAnomaly': q22Maternal } },
  { name: 'chrX', left: 781, top: 667, h: 349, y: [0.6564, 1.1594], ticks: chrXTicks, digits: 1, base: 631,
    lines: { 'NC': chrXNC, '2': chrXCN2, '1': chrXCN1, '3': chrXCN3, 'Maternal\nAnomaly': chrXMaternal } },
  { name: 'chrY', left: 1285, top: 667, h: 349, y: [-0.0164, 0.3308], ticks: chrYTicks, digits: 1, base: 631,
    lines: { 'NC': chrYNC, '2': chrYCN2, '1': chrYCN1, '0': chrYCN0 } }
];

const tickFont = { family: "'Liberation Sans', Arial, sans-serif", size: 42 };

function addText(str, cls, left, baseline, size, extra) {
  const d = document.createElement('div');
  d.className = 'txt ' + cls;
  d.textContent = str;
  d.style.left = left + 'px';
  d.style.top = (baseline - 0.846 * size) + 'px';
  if (extra) Object.assign(d.style, extra);
  document.body.appendChild(d);
  return d;
}

panels.forEach(p => {
  const cv = document.createElement('canvas');
  cv.width = AXIS_W + AREA_W + PAD_R;
  cv.height = PAD_T + p.h + AXIS_H;
  cv.style.left = (p.left - AXIS_W) + 'px';
  cv.style.top = (p.top - PAD_T) + 'px';
  document.body.appendChild(cv);

  const datasets = [];
  Object.keys(p.lines).forEach(call => {
    p.lines[call].forEach(line => {
      datasets.push({
        data: line.map(pt => ({ x: pt[0], y: pt[1] })),
        borderColor: callColors[call],
        borderWidth: 5,
        borderCapStyle: 'butt',
        borderJoinStyle: 'round',
        pointRadius: 0,
        tension: 0,
        fill: false,
        order: callOrder[call]
      });
    });
  });

  const grid = { color: '#d6d6d6', lineWidth: 3, tickColor: '#333333', tickWidth: 4.5, tickLength: 20 };
  const border = { color: '#000000', width: 5.5 };

  new Chart(cv, {
    type: 'line',
    data: { datasets },
    options: {
      responsive: false,
      animation: false,
      devicePixelRatio: 1,
      layout: { padding: { top: PAD_T, right: PAD_R, left: 0, bottom: 0 } },
      plugins: { legend: { display: false }, tooltip: { enabled: false } },
      scales: {
        x: {
          type: 'linear', min: -3.9, max: 62.9,
          afterBuildTicks: s => { s.ticks = xTicks.map(v => ({ value: v })); },
          afterFit: s => { s.height = AXIS_H; },
          ticks: { font: tickFont, color: '#4d4d4d', padding: 10, maxRotation: 0, callback: v => String(v) },
          grid, border
        },
        y: {
          type: 'linear', min: p.y[0], max: p.y[1],
          afterBuildTicks: s => { s.ticks = p.ticks.map(v => ({ value: v })); },
          afterFit: s => { s.width = AXIS_W; },
          ticks: { font: tickFont, color: '#4d4d4d', padding: 18, callback: v => v.toFixed(p.digits) },
          grid, border
        }
      }
    }
  });

  addText(p.name, 'title', p.left + 31, p.base, 50);
});

// axis titles
addText('Normalized Depth', '', 65, 553, 44, {
  fontWeight: 'bold', fontSize: '44px', color: '#16307A',
  top: '553px', transform: 'translate(-50%, -50%) rotate(-90deg)'
});
addText('Fetal Fraction (%)', '', 953, 1172, 40, {
  fontWeight: 'bold', fontSize: '40px', color: '#000', transform: 'translateX(-50%)'
});

// legend
addText('Fetal Copy Number Call', '', 110, 1268, 40, { fontWeight: 'bold', fontSize: '40px', color: '#000' });
const keyLefts = [592, 770, 948, 1125, 1303, 1615];
calls.forEach((c, i) => {
  const k = document.createElement('div');
  k.className = 'key';
  k.style.left = keyLefts[i] + 'px';
  k.style.top = '1247px';
  k.style.background = callColors[c];
  document.body.appendChild(k);
  const parts = c.split('\n');
  if (parts.length === 1) {
    addText(c, 'lab', keyLefts[i] + 122, 1268, 40);
  } else {
    addText(parts[0], 'lab', keyLefts[i] + 122, 1247, 40);
    addText(parts[1], 'lab', keyLefts[i] + 122, 1304, 40);
  }
});
</script>
</body>
</html>
